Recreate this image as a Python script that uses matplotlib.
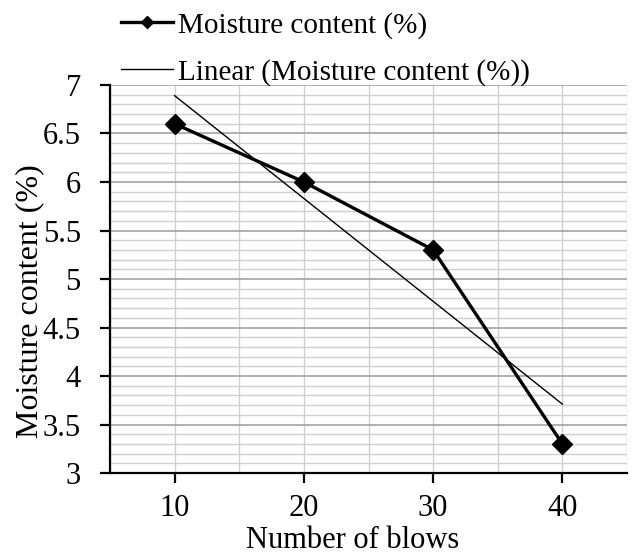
import numpy as np
import matplotlib.pyplot as plt
from matplotlib.ticker import MultipleLocator, FixedLocator

blows = [10, 20, 30, 40]
moisture = [6.6, 6.0, 5.3, 3.3]

plt.rcParams['font.family'] = ['Liberation Serif', 'DejaVu Serif']
plt.rcParams['font.size'] = 22

fig = plt.figure(figsize=(6.33, 5.57), dpi=100)
ax = fig.add_axes([0.1738, 0.1508, 0.8167, 0.6966])

# linear trendline like excel
slope, icpt = np.polyfit(blows, moisture, 1)
xfit = np.array([blows[0], blows[-1]])

ax.plot(blows, moisture, color='black', lw=2.4, marker='D', markersize=10,
        label='Moisture content (%)', zorder=3, clip_on=False)
ax.plot(xfit, slope * xfit + icpt, color='black', lw=1.0,
        label='Linear (Moisture content (%))', zorder=3)

ax.set_xlim(5, 45)
ax.set_ylim(3, 7)
ax.xaxis.set_major_locator(FixedLocator([10, 20, 30, 40]))
ax.xaxis.set_minor_locator(FixedLocator([5, 15, 25, 35, 45]))
ax.set_yticks(np.arange(3, 7.01, 0.5))
ax.set_yticklabels([f'{v:g}' for v in np.arange(3, 7.01, 0.5)])
ax.yaxis.set_minor_locator(MultipleLocator(0.1))

ax.grid(which='minor', color='#cfcfcf', lw=1.0)
ax.grid(which='major', axis='y', color='#a3a3a3', lw=1.2)
ax.grid(which='major', axis='x', color='#cfcfcf', lw=1.0)
ax.set_axisbelow(True)

for s in ['top', 'right']:
    ax.spines[s].set_visible(False)
ax.spines['left'].set_linewidth(1.6)
ax.spines['bottom'].set_linewidth(1.6)
ax.tick_params(which='major', direction='out', length=7, width=1.6)
ax.tick_params(which='minor', length=0)
ax.tick_params(axis='x', which='major', pad=8)
ax.tick_params(axis='y', which='major', pad=14)

ax.set_xlabel('Number of blows', fontsize=22)
ax.set_ylabel('Moisture content (%)', fontsize=23)
ax.xaxis.set_label_coords(0.47, -0.137)
ax.yaxis.set_label_coords(-0.128, 0.443)

fig.legend(loc='upper left', bbox_to_anchor=(0.191, 0.979), frameon=False,
           fontsize=21, handlelength=1.8, handletextpad=0.17,
           labelspacing=0.7, borderpad=0, borderaxespad=0, markerscale=0.65)

fig.savefig('out.png', dpi=100)
